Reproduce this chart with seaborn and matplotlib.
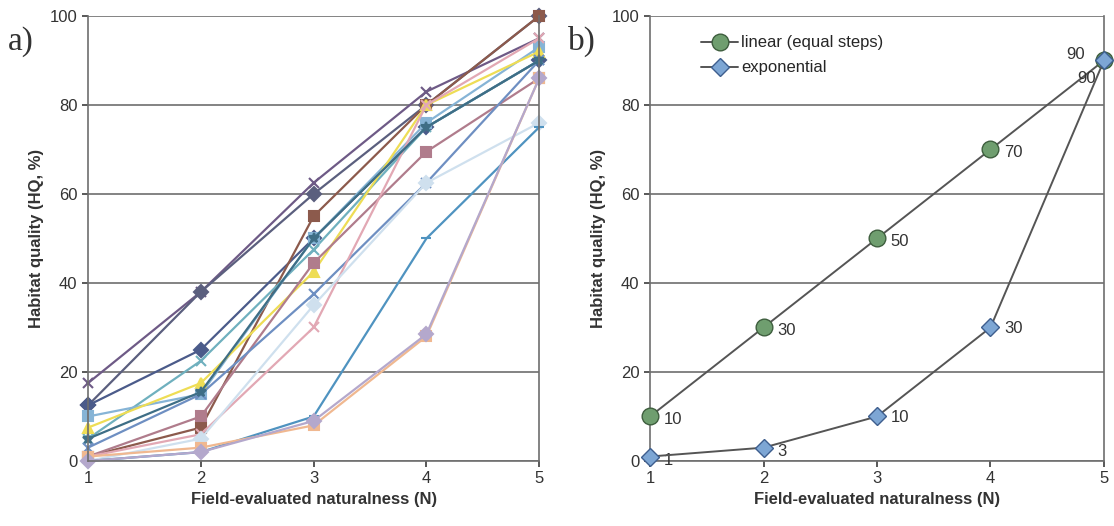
import matplotlib
matplotlib.use("Agg")
import matplotlib.pyplot as plt
import seaborn as sns
import pandas as pd

N = [1, 2, 3, 4, 5]

# Panel a: individual habitat-type curves
s_purple_x   = [17.5, 38, 62.5, 83, 95]
s_slate_dia  = [12.5, 38, 60, 80, 100]
s_navy_dia   = [12.5, 25, 50, 75, 90]
s_brown_sq   = [1, 7.5, 55, 80, 100]
s_teal_x     = [5, 22.5, 47.5, 75, 90]
s_ltblue_sq  = [10, 15, 50, 76, 93]
s_yellow_tri = [7.5, 17.5, 42.5, 80, 92]
s_mauve_sq   = [1, 10, 44.5, 69.5, 86]
s_blue_x     = [3, 15, 37.5, 62.5, 90]
s_pink_x     = [1, 6, 30, 80, 95]
s_pale       = [0, 5, 35, 62.5, 76]
s_blue_dash  = [0, 2, 10, 50, 75]
s_peach_sq   = [1, 3, 8, 28, 86]
s_lavender   = [0, 2, 9, 28.5, 86]
s_darkteal   = [5, 15.5, 50, 75, 90]

series_a = [
    ("purple_x", s_purple_x, "#6E5A86", "x"),
    ("slate_dia", s_slate_dia, "#5B5F7E", "D"),
    ("navy_dia", s_navy_dia, "#4B5B8A", "D"),
    ("brown_sq", s_brown_sq, "#8C5A4C", "s"),
    ("teal_x", s_teal_x, "#6FB0BE", "x"),
    ("ltblue_sq", s_ltblue_sq, "#86B4D6", "s"),
    ("yellow_tri", s_yellow_tri, "#EEDD55", "^"),
    ("mauve_sq", s_mauve_sq, "#B07C8C", "s"),
    ("blue_x", s_blue_x, "#6E8FC2", "x"),
    ("pink_x", s_pink_x, "#E2A8B4", "x"),
    ("pale", s_pale, "#CFE0EE", "D"),
    ("blue_dash", s_blue_dash, "#4F93C0", "_"),
    ("peach_sq", s_peach_sq, "#F0B890", "s"),
    ("lavender", s_lavender, "#B4A8CC", "D"),
    ("darkteal", s_darkteal, "#3E6E86", "*"),
]

# Panel b
linear_vals = [10, 30, 50, 70, 90]
expo_vals = [1, 3, 10, 30, 90]
linear_label = "linear (equal steps)"
expo_label = "exponential"

sns.set_theme(style="white")
plt.rcParams["font.family"] = ["Liberation Sans", "DejaVu Sans"]

fig = plt.figure(figsize=(11.14, 5.26), dpi=100)
ax1 = fig.add_axes([0.079, 0.1236, 0.405, 0.846])
ax2 = fig.add_axes([0.5835, 0.1236, 0.4075, 0.846])

for name, vals, col, mk in series_a:
    df = pd.DataFrame({"N": N, "HQ": vals})
    sns.lineplot(data=df, x="N", y="HQ", ax=ax1, color=col, marker=mk,
                 markersize=7, linewidth=1.6, markeredgecolor=col,
                 markeredgewidth=1.5, clip_on=False, legend=False)

dfl = pd.DataFrame({"N": N, "HQ": linear_vals})
dfe = pd.DataFrame({"N": N, "HQ": expo_vals})
sns.lineplot(data=dfl, x="N", y="HQ", ax=ax2, color="#555555", linewidth=1.4,
             marker="o", markersize=12, markerfacecolor="#6F9E6F",
             markeredgecolor="#3E5E3E", markeredgewidth=1.0, clip_on=False,
             label=linear_label, zorder=3)
sns.lineplot(data=dfe, x="N", y="HQ", ax=ax2, color="#555555", linewidth=1.4,
             marker="D", markersize=9, markerfacecolor="#7DA6D4",
             markeredgecolor="#3E5E8E", markeredgewidth=1.0, clip_on=False,
             label=expo_label, zorder=4)

for i, (x, y) in enumerate(zip(N, linear_vals)):
    if x == 5:
        ax2.annotate(str(y), (x, y), xytext=(-14, 4), textcoords="offset points",
                     ha="right", va="center", fontsize=12, color="#333333")
    else:
        ax2.annotate(str(y), (x, y), xytext=(10, -2), textcoords="offset points",
                     ha="left", va="center", fontsize=12, color="#333333")
for i, (x, y) in enumerate(zip(N, expo_vals)):
    if x == 5:
        ax2.annotate(str(y), (x, y), xytext=(-6, -13), textcoords="offset points",
                     ha="right", va="center", fontsize=12, color="#333333")
    elif x <= 2:
        ax2.annotate(str(y), (x, y), xytext=(10, -3), textcoords="offset points",
                     ha="left", va="center", fontsize=12, color="#333333")
    else:
        ax2.annotate(str(y), (x, y), xytext=(10, -1), textcoords="offset points",
                     ha="left", va="center", fontsize=12, color="#333333")

for ax in (ax1, ax2):
    ax.set_xlim(1, 5)
    ax.set_ylim(0, 100)
    ax.set_xticks(N)
    ax.set_yticks([0, 20, 40, 60, 80, 100])
    ax.yaxis.grid(True, color="#6E6E6E", linewidth=1.2)
    ax.xaxis.grid(False)
    ax.set_axisbelow(True)
    for side in ("left", "bottom", "right"):
        ax.spines[side].set_color("#6E6E6E")
        ax.spines[side].set_linewidth(1.2)
    ax.spines["top"].set_visible(False)
    ax.tick_params(axis="both", labelsize=12, colors="#444444", length=4,
                   direction="out", left=True, bottom=True)
    ax.tick_params(axis="both", labelcolor="#333333")
    ax.set_xlabel("Field-evaluated naturalness (N)", fontsize=12,
                  fontweight="bold", color="#333333")
    ax.set_ylabel("Habitat quality (HQ, %)", fontsize=12,
                  fontweight="bold", color="#333333")

leg = ax2.legend(loc="upper left", bbox_to_anchor=(0.08, 0.99), frameon=False,
                 fontsize=12, handlelength=2.2, handletextpad=0.2,
                 labelspacing=0.6)

fig.text(0.007, 0.905, "a)", fontsize=24, family="Liberation Serif",
         color="#333333")
fig.text(0.51, 0.905, "b)", fontsize=24, family="Liberation Serif",
         color="#333333")

fig.savefig("out.png", dpi=100)
